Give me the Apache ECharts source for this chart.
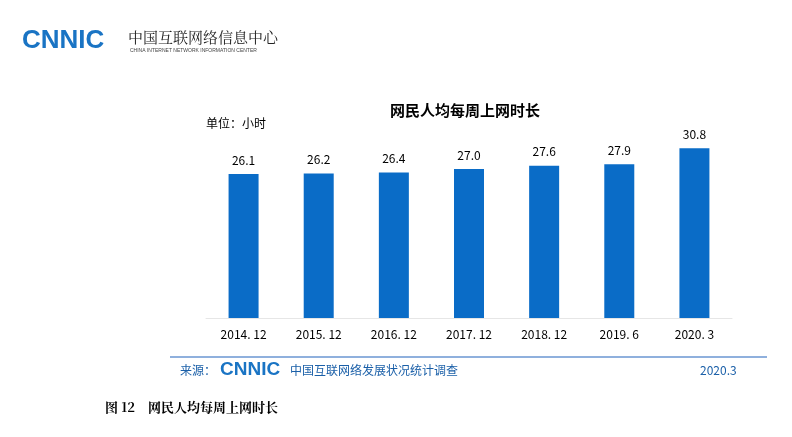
<!DOCTYPE html><html><head><meta charset="utf-8"><script src="https://cdn.jsdelivr.net/npm/echarts@6/dist/echarts.min.js"></script></head><body style="margin:0"><div id="c" style="width:792px;height:437px"></div><script>
const categories=['2014. 12','2015. 12','2016. 12','2017. 12','2018. 12','2019. 6','2020. 3'];
const values=[26.1,26.2,26.4,27.0,27.6,27.9,30.8];
const ch=echarts.init(document.getElementById('c'));
const f='"Noto Sans CJK SC",sans-serif';
ch.setOption({
 title:{text:'网民人均每周上网时长',left:460,top:98,textAlign:'center',textStyle:{fontFamily:f,fontSize:15,fontWeight:'bold',color:'#000'}},
 grid:{left:206,right:60,top:136,bottom:119},
 xAxis:{type:'category',data:categories,axisLine:{lineStyle:{color:'#e6e6e6'}},axisTick:{show:false},axisLabel:{fontFamily:f,fontSize:12,color:'#000',margin:10}},
 yAxis:{type:'value',min:0,max:33,show:false},
 series:[{type:'bar',data:values,barWidth:30,itemStyle:{color:'#0a6cc7'},label:{show:true,position:'top',fontFamily:f,fontSize:12,color:'#000',formatter:p=>p.value.toFixed(1),distance:8}}],
 graphic:[
  {type:'text',left:22,top:28,style:{text:'CNNIC',fontFamily:'Arial',fontWeight:'bold',fontSize:26,fill:'#1a74c4'}},
  {type:'text',left:128,top:30,style:{text:'中国互联网络信息中心',fontFamily:'"Noto Serif CJK SC","Noto Sans CJK SC"',fontSize:15,fill:'#222'}},
  {type:'text',left:130,top:48,style:{text:'CHINA INTERNET NETWORK INFORMATION CENTER',fontFamily:'Arial',fontSize:5,fill:'#444'}},
  {type:'text',left:206,top:117,style:{text:'单位：小时',fontFamily:f,fontSize:12,fill:'#000'}},
  {type:'rect',shape:{x:170,y:356,width:597,height:2},style:{fill:'#8fb0dd'}},
  {type:'text',left:180,top:364,style:{text:'来源：',fontFamily:f,fontSize:12,fill:'#1a5fa8'}},
  {type:'text',left:220,top:360,style:{text:'CNNIC',fontFamily:'Arial',fontWeight:'bold',fontSize:19,fill:'#1a74c4'}},
  {type:'text',left:290,top:364,style:{text:'中国互联网络发展状况统计调查',fontFamily:f,fontSize:12,fill:'#1a5fa8'}},
  {type:'text',left:700,top:364,style:{text:'2020.3',fontFamily:f,fontSize:12,fill:'#1a5fa8'}},
  {type:'text',left:105,top:401,style:{text:'图 12    网民人均每周上网时长',fontFamily:'"Noto Serif CJK SC","Noto Sans CJK SC"',fontSize:13,fontWeight:'bold',fill:'#000'}}
 ]
});
</script></body></html>
